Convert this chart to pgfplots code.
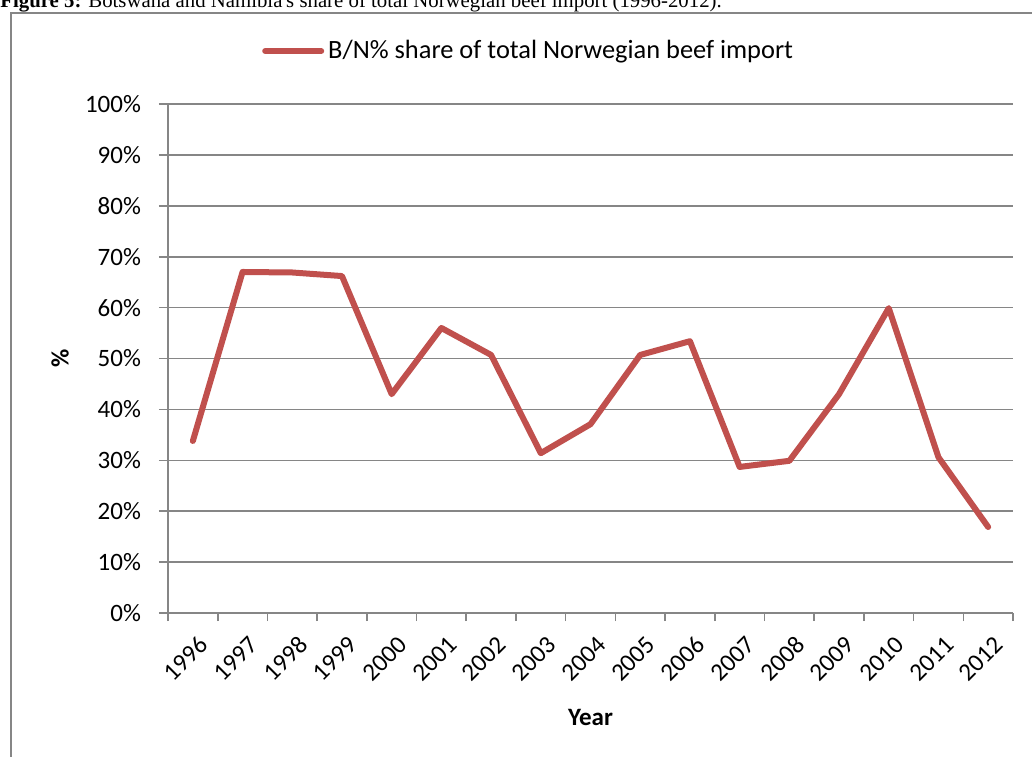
\documentclass[border=0pt]{standalone}
\usepackage{fontspec}
\setmainfont{Carlito}
\newfontfamily\capfont{Liberation Serif}
\usepackage{pgfplots}
\pgfplotsset{compat=1.18}
\definecolor{series}{HTML}{C0504D}
\definecolor{gridc}{HTML}{868686}
\begin{document}
\begin{tikzpicture}
\begin{scope}
\clip (0pt,0pt) rectangle (516pt,-378pt);
\draw[gridc, line width=1pt] (5.5pt,-6.5pt) rectangle (522pt,-388pt);
\node[anchor=base west, inner sep=0, font=\capfont\fontsize{10.4}{11}\selectfont] at (0pt,-3.8pt) {\textbf{Figure 5:} Botswana and Namibia's share of total Norwegian beef import (1996-2012).};
\begin{axis}[
  at={(84pt,-306.5pt)}, anchor=south west,
  scale only axis, width=422.5pt, height=254.5pt,
  xmin=-0.5, xmax=16.5, ymin=0, ymax=100,
  axis lines*=left,
  axis line style={gridc, line width=0.8pt},
  xtick={0,...,16},
  xticklabels={1996,1997,1998,1999,2000,2001,2002,2003,2004,2005,2006,2007,2008,2009,2010,2011,2012},
  major x tick style={draw=none},
  minor xtick={-0.5,0.5,...,16.5},
  minor x tick style={gridc, line width=0.8pt},
  minor tick length=4pt,
  ytick={0,10,...,100},
  yticklabels={0\%,10\%,20\%,30\%,40\%,50\%,60\%,70\%,80\%,90\%,100\%},
  major y tick style={gridc, line width=0.8pt},
  major tick length=4.5pt,
  tick align=outside,
  ymajorgrids, grid style={gridc, line width=0.8pt},
  tick label style={font=\fontsize{12.5}{14}\selectfont, text=black},
  xticklabel style={rotate=45, anchor=east, xshift=0.8pt, yshift=-10.5pt},
  yticklabel style={xshift=-5.5pt},
  xlabel={\textbf{Year}}, ylabel={\textbf{\%}},
  label style={font=\fontsize{12.5}{14}\selectfont},
  xlabel style={at={(rel axis cs:0.5,0)}, anchor=center, yshift=-52pt},
  ylabel style={at={(rel axis cs:0,0.5)}, anchor=center, yshift=54pt},
  legend style={at={(rel axis cs:0.428,1.104)}, anchor=center, draw=none, fill=none,
    font=\fontsize{13.2}{15}\selectfont, inner sep=0pt, nodes={inner xsep=2pt}},
  legend image code/.code={\draw[#1, line width=3pt, line cap=round] (0pt,0pt) -- (28pt,0pt);},
  legend cell align=left,
]
\addplot[series, line width=3pt, line join=round, line cap=round] coordinates {
(0,33.8) (1,67.0) (2,66.9) (3,66.2) (4,43.0) (5,56.0) (6,50.7) (7,31.4) (8,37.1)
(9,50.7) (10,53.4) (11,28.7) (12,29.9) (13,43.0) (14,59.9) (15,30.6) (16,16.9)};
\addlegendentry{B/N\% share of total Norwegian beef import}
\end{axis}
\end{scope}
\pgfresetboundingbox
\useasboundingbox (0pt,0pt) rectangle (516pt,-378pt);
\end{tikzpicture}
\end{document}
